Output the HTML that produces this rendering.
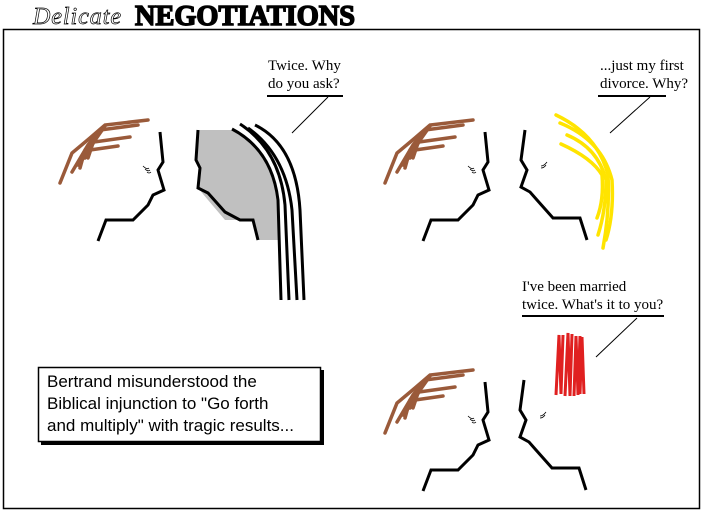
<!DOCTYPE html>
<html><head><meta charset="utf-8"><style>
body{margin:0;background:#fff;width:702px;height:512px;overflow:hidden}
svg{position:absolute;left:0;top:0}
.t{font-family:"Liberation Serif",serif;font-size:15px;fill:#000}
</style></head><body>
<svg width="702" height="512" viewBox="0 0 702 512">
<text x="33" y="24" font-family="Liberation Serif,serif" font-style="italic" font-size="24" fill="none" stroke="#000" stroke-width="0.7" textLength="88">Delicate</text>
<text x="135" y="25" font-family="Liberation Serif,serif" font-weight="bold" font-size="28" stroke="#000" stroke-width="1.5" textLength="220" lengthAdjust="spacingAndGlyphs">NEGOTIATIONS</text>
<rect x="3.5" y="29.5" width="696" height="479" fill="none" stroke="#000" stroke-width="1.5"/>
<defs>
<g id="lf">
<path d="M160,132 L163,162 L158,170 L164,190 L153,195 L148,205 L133,220 L106,220 L98,241" fill="none" stroke="#000" stroke-width="3"/>
<path d="M143,166 q4,4 6,2 M145,169 q3,3 5,1 M147,172 q2,2 4,0" fill="none" stroke="#000" stroke-width="0.8"/>
<g fill="none" stroke="#9a5a3a" stroke-width="3.5" stroke-linecap="round">
<path d="M148,120 L105,125 L90,138 L72,153 L60,183"/>
<path d="M138,125 L100,130 L88,145 L72,172"/>
<path d="M130,137 L94,142 L82,160 L78,165"/>
<path d="M118,146 L90,150 L85,158"/>
<path d="M105,126 L93,143 L88,158"/>
<path d="M100,131 L85,150 L80,168"/>
</g>
</g>
</defs>
<use href="#lf"/>
<use href="#lf" transform="translate(325,0)"/>
<use href="#lf" transform="translate(325,250)"/>
<!-- panel1 right -->
<path d="M198,130 L232,130 Q272,150 278,200 L279,240 L258,240 L253,220 L225,220 L208,200 L198,188 L200,168 L196,160 Z" fill="#c0c0c0"/>
<path d="M198,130 L196,160 L200,168 L198,188 L208,193 L225,212 L240,220 L253,220 L258,240" fill="none" stroke="#000" stroke-width="3"/>
<g fill="none" stroke="#000" stroke-width="3">
<path d="M232,129 Q272,150 278,200 L281,300"/>
<path d="M240,124 Q280,150 285,205 L289,300"/>
<path d="M248,128 Q286,155 292,210 L297,300"/>
<path d="M255,125 Q296,145 300,210 L304,300"/>
</g>
<text class="t" x="268" y="70">Twice. Why</text>
<text class="t" x="268" y="88">do you ask?</text>
<line x1="267" y1="96" x2="343" y2="96" stroke="#000" stroke-width="2"/>
<line x1="328" y1="97" x2="292" y2="133" stroke="#000" stroke-width="1"/>
<!-- panel2 right -->
<g id="rf"><path d="M525,130 L521,160 L527,170 L521,187 L530,192 L537,200 L553,218 L580,218 L587,240" fill="none" stroke="#000" stroke-width="3"/>
<path d="M547,162 q-3,4 -6,4 M546,165 q-2,3 -5,3" fill="none" stroke="#000" stroke-width="0.8"/></g>
<g fill="none" stroke="#ffe400" stroke-width="3.5" stroke-linecap="round">
<path d="M556,115 Q598,135 608,175 Q610,210 603,248"/>
<path d="M560,123 Q602,140 612,180 Q614,215 606,240"/>
<path d="M567,135 Q598,148 606,180 Q606,210 598,235"/>
<path d="M561,144 Q592,158 602,175 Q604,200 597,218"/>
</g>
<text class="t" x="600" y="70">...just my first</text>
<text class="t" x="600" y="88">divorce. Why?</text>
<line x1="598" y1="96" x2="666" y2="96" stroke="#000" stroke-width="2"/>
<line x1="650" y1="97" x2="610" y2="133" stroke="#000" stroke-width="1"/>
<!-- panel3 -->
<use href="#rf" transform="translate(-1,250)"/>
<g fill="none" stroke="#e02020" stroke-width="3">
<path d="M556,395 L559,335 L561,394 L563,335"/>
<path d="M565,396 L568,333 L570,396 L572,334"/>
<path d="M574,396 L576,336 L578,395 L580,336"/>
<path d="M580,394 L582,337 L584,394"/>
</g>
<text class="t" x="522" y="291">I've been married</text>
<text class="t" x="522" y="309">twice. What's it to you?</text>
<line x1="522" y1="316" x2="664" y2="316" stroke="#000" stroke-width="2"/>
<line x1="637" y1="318" x2="596" y2="357" stroke="#000" stroke-width="1"/>
<!-- caption -->
<rect x="41" y="370" width="283" height="75" fill="#000"/>
<rect x="38.5" y="367.5" width="282" height="74" fill="#fff" stroke="#000" stroke-width="1.5"/>
<g font-family="Liberation Sans,sans-serif" font-size="17" fill="#000">
<text x="47" y="387">Bertrand misunderstood the</text>
<text x="47" y="409">Biblical injunction to "Go forth</text>
<text x="47" y="431">and multiply" with tragic results...</text>
</g>
</svg>
</body></html>
